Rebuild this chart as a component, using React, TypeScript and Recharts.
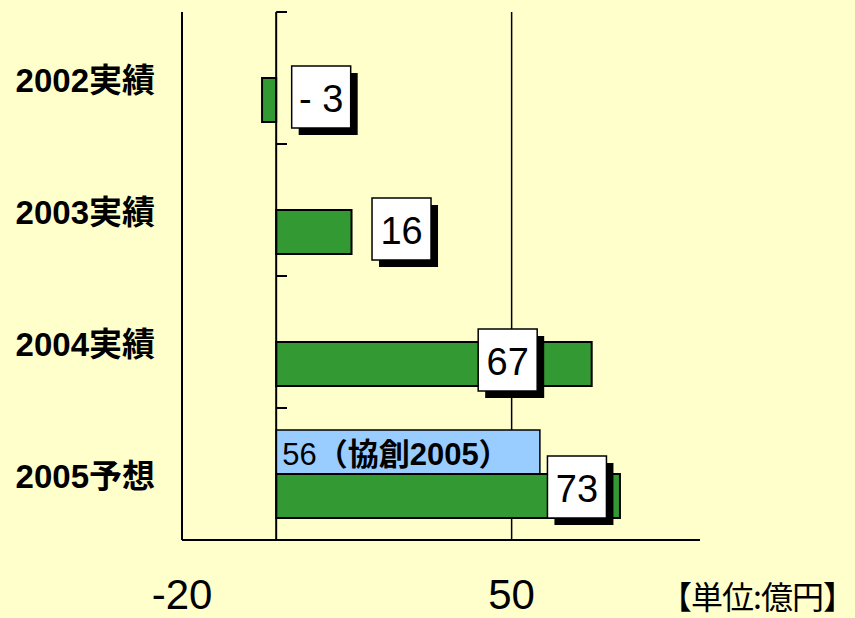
import React from "react";
import { Bar, BarChart, CartesianGrid, LabelList, ReferenceLine, XAxis, YAxis } from "recharts";

const CATEGORIES = ["2002実績", "2003実績", "2004実績", "2005予想"];
const ACTUAL = [-3, 16, 67, 73];
const PLAN: (number | null)[] = [null, null, null, 56];
const PLAN_NAME = "協創2005";
const X_TICKS = [-20, 50];
const X_DOMAIN: [number, number] = [-20, 90];
const GRID_X = [50];
const UNIT = "【単位:億円】";

// where each value box sits, relative to the bar end / bar centre (px)
const BOX_SHIFT: [number, number][] = [
    [45, -3],
    [50, -3],
    [-84, -4],
    [-43, -9],
];

const BG = "#FFFFCC";
const GREEN = "#339933";
const BLUE = "#99CCFF";
const SANS = "'Liberation Sans', Arial, 'Noto Sans CJK JP', sans-serif";

const data = CATEGORIES.map((name, i) => ({ name, actual: ACTUAL[i], plan: PLAN[i] }));

function CategoryTick({ x, y, payload }: any) {
    return (
        <text
            x={x - 27}
            y={y + 2}
            textAnchor="end"
            dominantBaseline="central"
            fontFamily={SANS}
            fontWeight="bold"
            fontSize={33}
            fill="#000"
        >
            {payload.value}
        </text>
    );
}

function ValueTick({ x, y, payload }: any) {
    return (
        <text
            x={x}
            y={y + 69}
            textAnchor="middle"
            fontFamily="'Liberation Sans Narrow', 'Liberation Sans', sans-serif"
            fontSize={42}
            fill="#000"
        >
            {payload.value}
        </text>
    );
}

function ValueBox(props: any) {
    const { x, y, width, height, value } = props;
    const idx = ACTUAL.indexOf(value);
    if (idx < 0) return null;
    const [dx, dy] = BOX_SHIFT[idx];
    const end = Math.max(x, x + width);
    const cx = end + dx;
    const cy = y + height / 2 + dy;
    const w = 59;
    const h = 62;
    return (
        <g>
            <rect x={cx - w / 2 + 7} y={cy - h / 2 + 7} width={w} height={h} fill="#000" />
            <rect x={cx - w / 2} y={cy - h / 2} width={w} height={h} fill="#fff" stroke="#000" strokeWidth={1.5} />
            <text
                x={cx}
                y={cy + 2}
                textAnchor="middle"
                dominantBaseline="central"
                fontFamily={SANS}
                fontSize={38}
                fill="#000"
            >
                {value < 0 ? `- ${Math.abs(value)}` : value}
            </text>
        </g>
    );
}

function PlanLabel(props: any) {
    const { x, y, height, value } = props;
    if (value == null) return null;
    return (
        <text
            x={x + 6}
            y={y + height / 2 + 2}
            dominantBaseline="central"
            fontFamily={SANS}
            fontSize={31}
            fill="#000"
        >
            {value}
            <tspan fontWeight="bold">{`（${PLAN_NAME}）`}</tspan>
        </text>
    );
}

export default function App() {
    return (
        <div style={{ position: "absolute", left: 0, top: 0, width: 855, height: 618, background: BG, overflow: "hidden" }}>
            <BarChart
                width={855}
                height={618}
                data={data}
                layout="vertical"
                margin={{ top: 12, right: 155, bottom: 0, left: 0 }}
                barCategoryGap="16.67%"
                barGap={0}
            >
                <CartesianGrid
                    horizontal={false}
                    vertical
                    verticalValues={GRID_X}
                    stroke="#000"
                    strokeWidth={1.5}
                />
                <XAxis
                    type="number"
                    domain={X_DOMAIN}
                    ticks={X_TICKS}
                    allowDataOverflow
                    height={78}
                    tickLine={false}
                    tickSize={0}
                    tickMargin={0}
                    axisLine={{ stroke: "#000", strokeWidth: 2 }}
                    tick={<ValueTick />}
                    interval={0}
                />
                <YAxis
                    type="category"
                    dataKey="name"
                    width={182}
                    tickLine={false}
                    tickSize={0}
                    tickMargin={0}
                    axisLine={{ stroke: "#000", strokeWidth: 2 }}
                    tick={<CategoryTick />}
                    interval={0}
                />

                <ReferenceLine x={0} stroke="#000" strokeWidth={2} />
                {CATEGORIES.map((c) => (
                    <ReferenceLine
                        key={c}
                        segment={[{ x: 0, y: c }, { x: 2.3, y: c }]}
                        position="start"
                        stroke="#000"
                        strokeWidth={2}
                        ifOverflow="visible"
                    />
                ))}
                <ReferenceLine
                    segment={[
                        { x: 0, y: CATEGORIES[CATEGORIES.length - 1] },
                        { x: 2.3, y: CATEGORIES[CATEGORIES.length - 1] },
                    ]}
                    position="end"
                    stroke="#000"
                    strokeWidth={2}
                    ifOverflow="visible"
                />

                <Bar dataKey="plan" fill={BLUE} stroke="#000" strokeWidth={1.5} isAnimationActive={false}>
                    <LabelList dataKey="plan" content={<PlanLabel />} />
                </Bar>
                <Bar dataKey="actual" fill={GREEN} stroke="#000" strokeWidth={2} isAnimationActive={false}>
                    <LabelList dataKey="actual" content={<ValueBox />} />
                </Bar>
            </BarChart>
            <div
                style={{
                    position: "absolute",
                    left: 660,
                    top: 572,
                    fontFamily: "'Noto Sans CJK JP', sans-serif",
                    fontSize: 32,
                    lineHeight: "46px",
                    letterSpacing: -1,
                    whiteSpace: "nowrap",
                    color: "#000",
                }}
            >
                {UNIT}
            </div>
        </div>
    );
}
